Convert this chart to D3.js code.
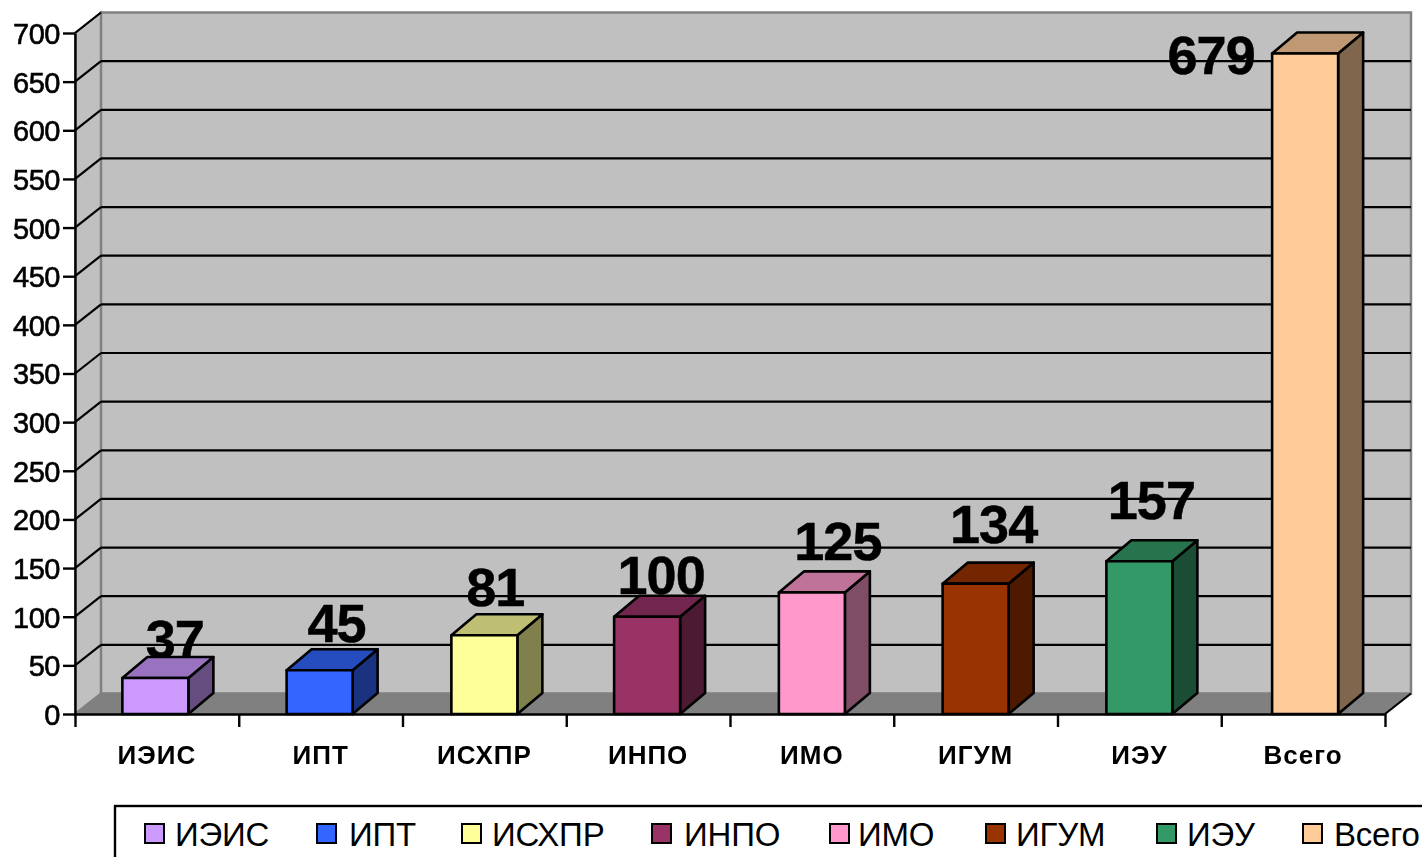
<!DOCTYPE html>
<html><head><meta charset="utf-8">
<script src="https://cdnjs.cloudflare.com/ajax/libs/d3/7.8.5/d3.min.js"></script>
<style>html,body{margin:0;padding:0;background:#fff;overflow:hidden}svg{display:block;filter:blur(0.5px)}text{font-family:"Liberation Sans",Arial,sans-serif;fill:#000}</style>
</head><body><svg id="c" width="1422" height="857"></svg>
<script>
const categories=["ИЭИС","ИПТ","ИСХПР","ИНПО","ИМО","ИГУМ","ИЭУ","Всего"];
const values=[37,45,81,100,125,134,157,679];
const colors=["#cc99ff","#3366ff","#ffff99","#993366","#ff99cc","#993300","#339966","#ffcc99"];
const yTicks=d3.range(0,701,50);
// layout nudges, relative to each bar
const barDx=[-1.5,-1,0,-1,0,0,0,2];
const labelDx=[18,16,11,13,26,18,12,-92];
const labelDy=[-20,-28,-29,-23,-32,-41,-42,21];
const legendSwatchX=[145,317,462,652,830,986,1157,1303];
const legendTextX=[175,349,492,684,858,1016,1187,1334];

const svg=d3.select("#c");
const x0=75,x1=1385,y0=714,y1=33,dx=26,dy=-20.5;
const y=d3.scaleLinear().domain([0,700]).range([y0,y1]);
const x=d3.scaleBand().domain(categories).range([x0,x1]).paddingInner(0).paddingOuter(0);
const bw=66, bdx=25, bdy=-21;
const poly=p=>p.map(q=>q.join(",")).join(" ");

// walls
svg.append("polygon").attr("points",poly([[x0,y0],[x0+dx,y0+dy],[x0+dx,y1+dy],[x0,y1]])).attr("fill","#c0c0c0").attr("stroke","#808080").attr("stroke-width",2);
svg.append("polygon").attr("points",poly([[x0+dx,y0+dy],[x1+dx,y0+dy],[x1+dx,y1+dy],[x0+dx,y1+dy]])).attr("fill","#c0c0c0").attr("stroke","#808080").attr("stroke-width",2.5);
svg.append("polygon").attr("points",poly([[x0,y0],[x0+dx,y0+dy],[x1+dx,y0+dy],[x1,y0]])).attr("fill","#808080");
// grid
const grid=svg.append("g").attr("stroke","#000").attr("stroke-width",2.2);
grid.selectAll("line.b").data(yTicks.filter(t=>t>0&&t<700)).join("line").attr("class","b")
 .attr("x1",x0+dx).attr("x2",x1+dx).attr("y1",d=>y(d)+dy).attr("y2",d=>y(d)+dy);
grid.selectAll("line.s").data(yTicks.filter(t=>t>0)).join("line").attr("class","s")
 .attr("x1",x0).attr("x2",x0+dx).attr("y1",d=>y(d)).attr("y2",d=>y(d)+dy);
grid.append("line").attr("x1",x1).attr("x2",x1+dx).attr("y1",y0).attr("y2",y0+dy);
grid.append("line").attr("x1",x0).attr("x2",x0+dx).attr("y1",y0).attr("y2",y0+dy).attr("stroke","#808080");

// data labels (behind bars)
svg.append("g").selectAll("text").data(values).join("text")
 .attr("x",(d,i)=>x(categories[i])+x.bandwidth()/2+labelDx[i])
 .attr("y",(d,i)=>y(d)+labelDy[i])
 .attr("text-anchor","middle").attr("font-weight","700").attr("font-size",54).attr("letter-spacing",-1)
 .attr("stroke","#000").attr("stroke-width",0.5)
 .text(d=>d);

// bars
const shade=(c,k)=>{const r=d3.rgb(c);return d3.rgb(r.r*k,r.g*k,r.b*k).formatHex();};
const bars=svg.append("g").selectAll("g").data(values).join("g")
 .attr("stroke","#000").attr("stroke-width",2.6).attr("stroke-linejoin","round");
bars.each(function(d,i){
  const g=d3.select(this), l=x(categories[i])+x.bandwidth()/2-bw/2+barDx[i], r=l+bw, t=y(d), b=y(0);
  g.append("polygon").attr("points",poly([[r,b],[r+bdx,b+bdy],[r+bdx,t+bdy],[r,t]])).attr("fill",shade(colors[i],0.5));
  g.append("polygon").attr("points",poly([[l,t],[l+bdx,t+bdy],[r+bdx,t+bdy],[r,t]])).attr("fill",shade(colors[i],0.75));
  g.append("rect").attr("x",l).attr("y",t).attr("width",bw).attr("height",b-t).attr("fill",colors[i]);
});

// axes
const ya=svg.append("g").attr("transform",`translate(${x0},0)`)
 .call(d3.axisLeft(y).tickValues(yTicks).tickSize(12).tickPadding(3).tickSizeOuter(0));
ya.selectAll("path,line").attr("stroke","#000").attr("stroke-width",2.4);
ya.selectAll("text").attr("font-size",29).attr("letter-spacing",-0.5).attr("font-family",'"Liberation Sans"').attr("stroke","#000").attr("stroke-width",0.6).attr("dy","0.36em");

const xEdges=d3.scaleLinear().domain([0,categories.length]).range([x0,x1]);
const xa=svg.append("g").attr("transform",`translate(0,${y0})`)
 .call(d3.axisBottom(xEdges).tickValues(d3.range(0,categories.length+1)).tickSize(13).tickFormat("").tickSizeOuter(0));
xa.selectAll("path,line").attr("stroke","#000").attr("stroke-width",2.4);
const xl=svg.append("g").attr("transform",`translate(0,${y0})`)
 .call(d3.axisBottom(x).tickSize(0).tickPadding(0));
xl.select("path").remove();
xl.selectAll("text").attr("font-size",26).attr("font-weight","700").attr("font-family",'"Liberation Sans"').attr("letter-spacing",1).attr("y",50).attr("dy",0);

// legend
svg.append("rect").attr("x",115).attr("y",806).attr("width",1400).attr("height",100).attr("fill","#fff").attr("stroke","#000").attr("stroke-width",2.4);
const lg=svg.append("g").selectAll("g").data(categories).join("g");
lg.append("rect").attr("x",(d,i)=>legendSwatchX[i]).attr("y",824).attr("width",19).attr("height",19)
 .attr("fill",(d,i)=>colors[i]).attr("stroke","#000").attr("stroke-width",2);
lg.append("text").attr("x",(d,i)=>legendTextX[i]).attr("y",846).attr("font-size",33).attr("letter-spacing",-0.2).text(d=>d);
</script></body></html>
